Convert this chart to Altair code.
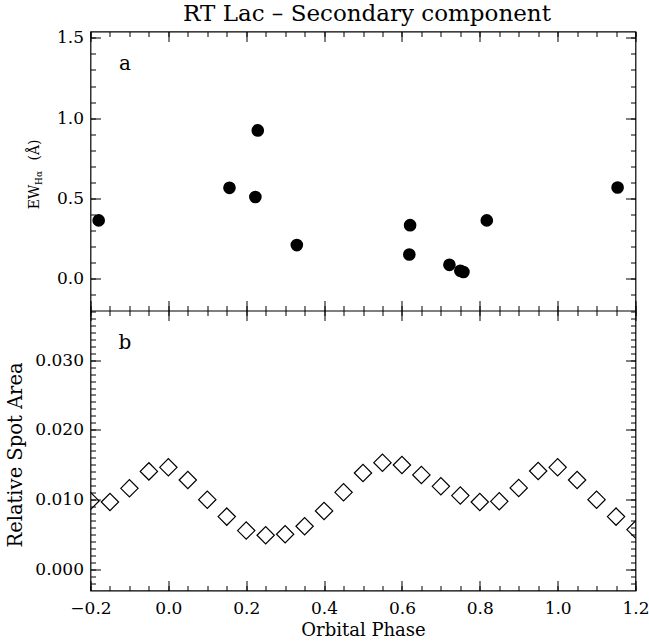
import altair as alt
import pandas as pd

# ---- data ----
ew_phase = [-0.179, 0.157, 0.2235, 0.2297, 0.330, 0.619, 0.621, 0.722, 0.750, 0.758, 0.818, 1.154]
ew_value = [0.362, 0.565, 0.508, 0.923, 0.208, 0.149, 0.332, 0.085, 0.048, 0.040, 0.362, 0.567]

spot_phase = [-0.20, -0.15, -0.10, -0.05, 0.00, 0.05, 0.10, 0.15, 0.20, 0.25,
              0.30, 0.35, 0.40, 0.45, 0.50, 0.55, 0.60, 0.65, 0.70, 0.75,
              0.80, 0.85, 0.90, 0.95, 1.00, 1.05, 1.10, 1.15, 1.20]
spot_area = [0.00983, 0.00968, 0.01163, 0.01406, 0.01464, 0.01283, 0.01001, 0.00758, 0.00558, 0.00491,
             0.00505, 0.00620, 0.00840, 0.01106, 0.01383, 0.01531, 0.01498, 0.01355, 0.01192, 0.01059,
             0.00968, 0.00977, 0.01169, 0.01412, 0.01464, 0.01283, 0.01001, 0.00758, 0.00572]

x_major = [-0.2, 0.0, 0.2, 0.4, 0.6, 0.8, 1.0, 1.2]
x_minor = [round(-0.2 + 0.05 * i, 2) for i in range(29)]
ew_major = [0.0, 0.5, 1.0, 1.5]
ew_minor = [round(-0.1 + 0.1 * i, 1) for i in range(17)]
spot_major = [0.0, 0.01, 0.02, 0.03]
spot_minor = [round(-0.002 + 0.001 * i, 3) for i in range(40)]

title_text = "RT Lac \u2013 Secondary component"
ew_title_parts = ["EW", "H\u03b1", "(\u00c5)"]
panel_letters = ["a", "b"]

# ---- layout ----
W, H, HT = 545, 559, 279
FONT = "DejaVu Serif"
MAJ, MIN = 10, 5

xscale = alt.Scale(domain=[-0.2, 1.2], nice=False, zero=False)
ew_scale = alt.Scale(domain=[-0.2, 1.54], range=[HT, 0], nice=False, zero=False)
spot_scale = alt.Scale(domain=[-0.003, 0.0371], range=[H, HT], nice=False, zero=False)

ew_df = pd.DataFrame({"phase": ew_phase, "ew": ew_value})
spot_df = pd.DataFrame({"phase": spot_phase, "area": spot_area})


def ax(orient, offset, size, values, labels=False, domain=False, **kw):
    return alt.Axis(orient=orient, offset=offset, tickSize=size, values=values,
                    labels=labels, domain=domain, grid=False, title="", **kw)


def panel_layer(df, yfield, yscale, xaxis, yaxis, mark):
    return mark.encode(
        x=alt.X("phase:Q", scale=xscale, axis=xaxis),
        y=alt.Y(f"{yfield}:Q", scale=yscale, axis=yaxis),
    )


layers = []

# ---- top panel ----
layers.append(panel_layer(
    ew_df, "ew", ew_scale,
    ax("top", -MAJ, MAJ, x_major),
    alt.Axis(orient="left", offset=-MAJ, tickSize=MAJ, values=ew_major, labels=True,
             format=".1f", labelPadding=7, domain=False, grid=False, title=""),
    alt.Chart(ew_df).mark_circle(size=160, color="black", opacity=1, clip=True)))
layers.append(panel_layer(
    ew_df, "ew", ew_scale,
    ax("top", -MIN, MIN, x_minor),
    ax("left", -MIN, MIN, ew_minor),
    alt.Chart(ew_df).mark_point(opacity=0)))
layers.append(panel_layer(
    ew_df, "ew", ew_scale,
    ax("top", -HT, MAJ, x_major),
    ax("right", -MAJ, MAJ, ew_major),
    alt.Chart(ew_df).mark_point(opacity=0)))
layers.append(panel_layer(
    ew_df, "ew", ew_scale,
    ax("top", -HT, MIN, x_minor),
    ax("right", -MIN, MIN, ew_minor),
    alt.Chart(ew_df).mark_point(opacity=0)))

# ---- bottom panel ----
layers.append(panel_layer(
    spot_df, "area", spot_scale,
    alt.Axis(orient="bottom", offset=-MAJ, tickSize=MAJ, values=x_major, labels=True,
             format=".1f", labelPadding=10, domain=False, grid=False,
             title="Orbital Phase", titleY=50, titleBaseline="middle", titleAlign="center"),
    alt.Axis(orient="left", offset=-MAJ, tickSize=MAJ, values=spot_major, labels=True,
             format=".3f", labelPadding=7, domain=False, grid=False,
             title="Relative Spot Area", titleX=-85.5, titleY=423, titleAngle=270,
             titleAlign="center", titleBaseline="middle", titleFontSize=19.5),
    alt.Chart(spot_df).mark_point(shape="diamond", size=300, filled=False, color="black",
                                  strokeWidth=1.2, opacity=1, clip=True)))
layers.append(panel_layer(
    spot_df, "area", spot_scale,
    ax("bottom", -MIN, MIN, x_minor),
    ax("left", -MIN, MIN, spot_minor),
    alt.Chart(spot_df).mark_point(opacity=0)))
layers.append(panel_layer(
    spot_df, "area", spot_scale,
    ax("bottom", HT - H, MAJ, x_major, domain=True),
    ax("right", -MAJ, MAJ, spot_major),
    alt.Chart(spot_df).mark_point(opacity=0)))
layers.append(panel_layer(
    spot_df, "area", spot_scale,
    ax("bottom", HT - H, MIN, x_minor),
    ax("right", -MIN, MIN, spot_minor),
    alt.Chart(spot_df).mark_point(opacity=0)))

# ---- annotations ----
def label(text, x, y, size, angle=0):
    return alt.Chart(pd.DataFrame({"t": [text]})).mark_text(
        font=FONT, fontSize=size, color="black", angle=angle,
        align="center", baseline="middle").encode(
        x=alt.value(x), y=alt.value(y), text="t:N")

layers.append(label(title_text, 276.5, -17.5, 23))
layers.append(label(panel_letters[0], 34.5, 32.5, 20))
layers.append(label(panel_letters[1], 34.5, 311, 20))
layers.append(label(ew_title_parts[0], -55.5, 165.5, 14, 270))
layers.append(label(ew_title_parts[1], -52.0, 146.5, 9, 270))
layers.append(label(ew_title_parts[2], -56.0, 118.5, 14, 270))

chart = alt.layer(*layers).resolve_scale(y="independent").resolve_axis(
    x="independent", y="independent"
).properties(
    width=W, height=H,
    autosize=alt.AutoSizeParams(type="none"),
    padding={"left": 90.5, "top": 31.5, "right": 13.5, "bottom": 52.5},
).configure_view(
    stroke="black", strokeWidth=1.2
).configure_axis(
    labelFont=FONT, labelFontSize=17, labelColor="black", labelFlush=False,
    labelOverlap=False, tickColor="black", tickWidth=1, domainColor="black",
    domainWidth=1.2, titleFont=FONT, titleFontSize=18, titleFontWeight="normal",
    titleColor="black",
)

chart.save("out.html", embed_options={"renderer": "svg", "actions": False})
